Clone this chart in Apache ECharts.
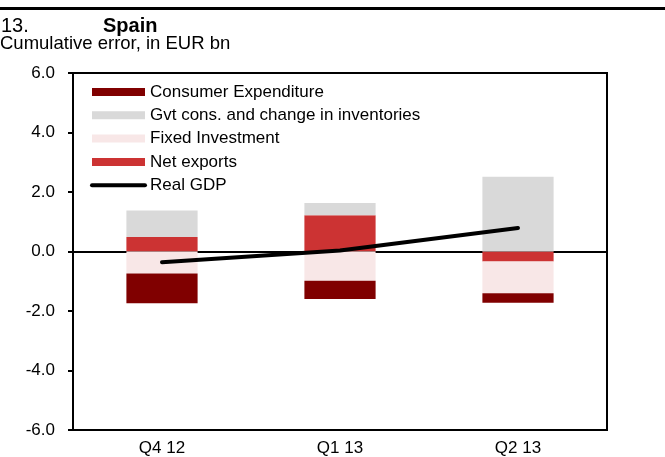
<!DOCTYPE html>
<html>
<head>
<meta charset="utf-8">
<title>Spain - cumulative error</title>
<script src="https://cdn.jsdelivr.net/npm/echarts@6/dist/echarts.min.js"></script>
<style>
  html, body { margin: 0; padding: 0; background: #fff; }
  #main { width: 665px; height: 457px; }
</style>
</head>
<body>
<div id="main"></div>
<script type="text/javascript">
    // data
    var categories = ['Q4 12', 'Q1 13', 'Q2 13'];
    var consumer = [-1.00, -0.62, -0.32];
    var gvtInventories = [0.89, 0.41, 2.51];
    var fixedInvestment = [-0.74, -0.98, -1.06];
    var netExports = [0.49, 1.22, -0.34];
    var realGdp = [-0.36, 0.03, 0.79];
    var yTicks = [-6, -4, -2, 0, 2, 4, 6];

    var font = 'Liberation Sans, Arial, sans-serif';
    var myChart = echarts.init(document.getElementById('main'));

    var option = {
        animation: false,
        backgroundColor: '#fff',
        textStyle: { fontFamily: font, color: '#000' },
        graphic: [
            { type: 'line', shape: { x1: 0, y1: 8.5, x2: 665, y2: 8.5 }, style: { stroke: '#000', lineWidth: 3 } },
            { type: 'text', left: 1, top: 16, style: { text: '13.', font: '20px ' + font, fill: '#000' } },
            { type: 'text', left: 103, top: 16, style: { text: 'Spain', font: 'bold 20px ' + font, fill: '#000' } },
            { type: 'text', left: 0, top: 34, style: { text: 'Cumulative error, in EUR bn', font: '18.5px ' + font, fill: '#000' } }
        ],
        legend: {
            orient: 'vertical',
            left: 90,
            top: 83,
            padding: 0,
            itemWidth: 53,
            itemHeight: 8,
            itemGap: 5.3,
            textStyle: { fontFamily: font, fontSize: 17, color: '#000', lineHeight: 18 },
            data: [
                { name: 'Consumer Expenditure', icon: 'rect' },
                { name: 'Gvt cons. and change in inventories', icon: 'rect' },
                { name: 'Fixed Investment', icon: 'rect' },
                { name: 'Net exports', icon: 'rect' },
                { name: 'Real GDP', lineStyle: { width: 4, cap: 'round' }, itemStyle: { opacity: 0 } }
            ]
        },
        grid: {
            left: 73, right: 58, top: 73, bottom: 27,
            show: true, borderColor: '#000', borderWidth: 2
        },
        xAxis: [
            {
                type: 'category',
                data: categories,
                position: 'bottom',
                axisLine: { onZero: false, lineStyle: { color: '#000', width: 2 } },
                axisTick: { show: false },
                axisLabel: { fontSize: 17, color: '#000', margin: 10 }
            },
            {
                // line at zero with ticks between categories
                type: 'category',
                data: categories,
                axisLine: { onZero: true, lineStyle: { color: '#000', width: 2 } },
                axisTick: { inside: true, length: 4, lineStyle: { color: '#000', width: 1.5 } },
                axisLabel: { show: false }
            }
        ],
        yAxis: {
            type: 'value',
            min: yTicks[0],
            max: yTicks[yTicks.length - 1],
            interval: 2,
            axisLine: { show: true, onZero: false, lineStyle: { color: '#000', width: 2 } },
            axisTick: { show: true, length: 5, lineStyle: { color: '#000', width: 2 } },
            axisLabel: {
                fontSize: 17, color: '#000', margin: 18,
                formatter: function (v) { return v.toFixed(1); }
            },
            splitLine: { show: false }
        },
        series: [
            // order sets the stacking from zero outwards
            { name: 'Net exports', type: 'bar', stack: 'err', barWidth: '40%', xAxisIndex: 0,
              itemStyle: { color: '#cc3333' }, data: netExports },
            { name: 'Fixed Investment', type: 'bar', stack: 'err', xAxisIndex: 0,
              itemStyle: { color: '#f8e7e7' }, data: fixedInvestment },
            { name: 'Gvt cons. and change in inventories', type: 'bar', stack: 'err', xAxisIndex: 0,
              itemStyle: { color: '#d9d9d9' }, data: gvtInventories },
            { name: 'Consumer Expenditure', type: 'bar', stack: 'err', xAxisIndex: 0,
              itemStyle: { color: '#800000' }, data: consumer },
            { name: 'Real GDP', type: 'line', xAxisIndex: 0, symbol: 'none', z: 5,
              lineStyle: { color: '#000', width: 4, cap: 'round' },
              itemStyle: { color: '#000' }, data: realGdp }
        ]
    };

    myChart.setOption(option);
</script>
</body>
</html>
